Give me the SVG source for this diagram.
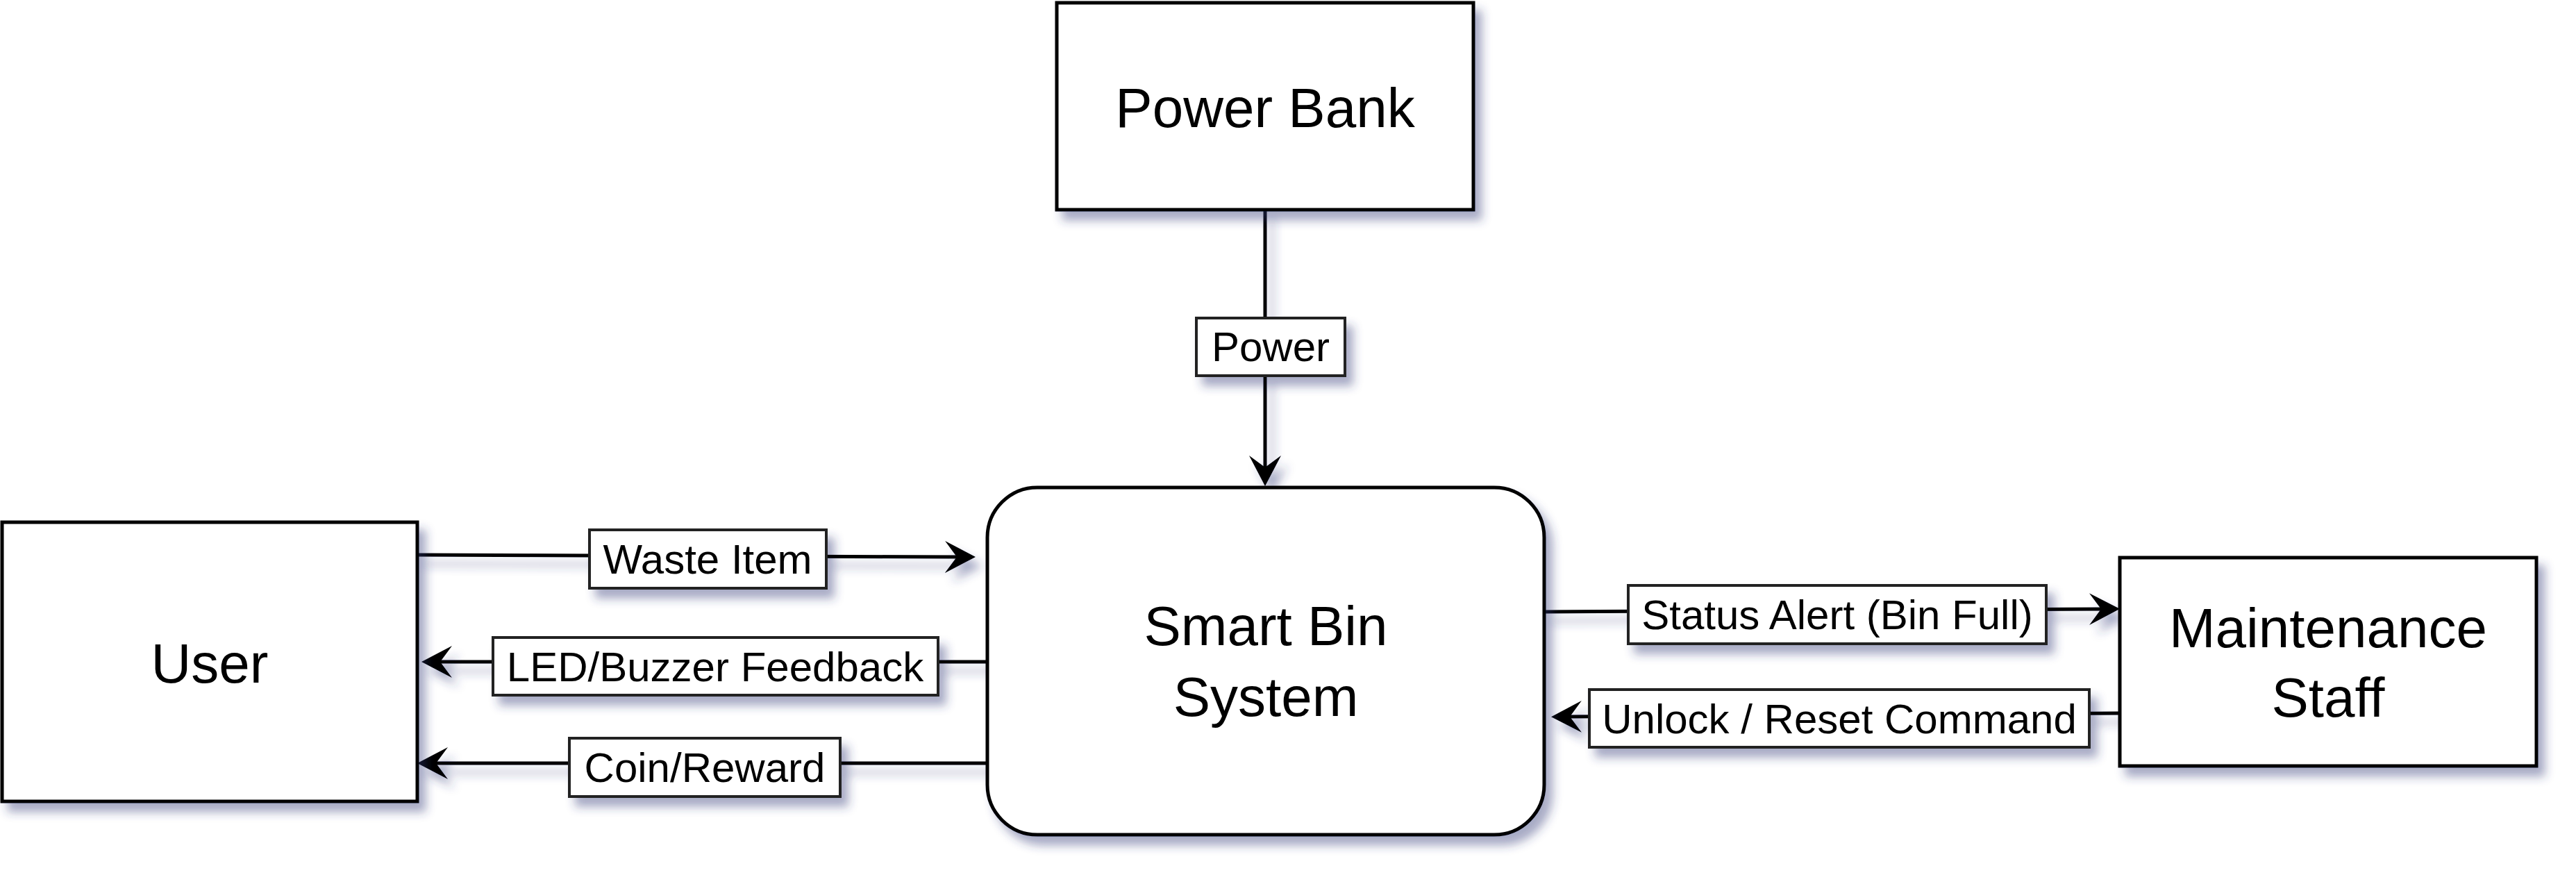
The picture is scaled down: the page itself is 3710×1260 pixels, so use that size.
<svg xmlns="http://www.w3.org/2000/svg" width="3710" height="1260" viewBox="0 0 3710 1260">
<defs>
<filter id="sh" x="-20%" y="-20%" width="150%" height="150%">
<feDropShadow dx="10" dy="13" stdDeviation="7" flood-color="#2e3676" flood-opacity="0.42"/>
</filter>
<marker id="arr" markerUnits="userSpaceOnUse" markerWidth="50" markerHeight="50" viewBox="0 0 50 50" refX="17" refY="23" orient="auto">
<path d="M44,23 L0,0 L17,23 L0,46 Z" fill="#000"/>
</marker>
<style>
.node{fill:#fff;stroke:#000;stroke-width:5}
.nt{font-family:"Liberation Sans",Arial,sans-serif;font-size:80px;fill:#000;text-anchor:middle}
.edge{fill:none;stroke:#000;stroke-width:5}
.lb{fill:#fff;stroke:#222;stroke-width:4}
.lt{font-family:"Liberation Sans",Arial,sans-serif;font-size:60px;fill:#000;text-anchor:middle}
</style>
</defs>
<rect width="3710" height="1260" fill="#fff"/>
<g id="connectors" filter="url(#sh)">
<path class="edge" d="M1822,302 L1822,673" marker-end="url(#arr)"/>
<path class="edge" d="M601,799 L1378,802" marker-end="url(#arr)"/>
<path class="edge" d="M1422,953 L634,953" marker-end="url(#arr)"/>
<path class="edge" d="M1422,1099 L628,1099" marker-end="url(#arr)"/>
<path class="edge" d="M2224,881 L3026,877" marker-end="url(#arr)"/>
<path class="edge" d="M3053,1027 L2261,1032" marker-end="url(#arr)"/>
<g id="label-power"><rect class="lb" x="1723" y="458" width="214" height="83"/><text class="lt" x="1830" y="520">Power</text></g>
<g id="label-waste"><rect class="lb" x="849" y="763" width="341" height="84"/><text class="lt" x="1019" y="826">Waste Item</text></g>
<g id="label-led"><rect class="lb" x="710" y="918" width="641" height="83"/><text class="lt" x="1030" y="981">LED/Buzzer Feedback</text></g>
<g id="label-coin"><rect class="lb" x="820" y="1063" width="390" height="84"/><text class="lt" x="1015" y="1126">Coin/Reward</text></g>
<g id="label-status"><rect class="lb" x="2345" y="843" width="602" height="84"/><text class="lt" x="2646" y="906">Status Alert (Bin Full)</text></g>
<g id="label-unlock"><rect class="lb" x="2289" y="993" width="720" height="83"/><text class="lt" x="2649" y="1056">Unlock / Reset Command</text></g>
</g>
<g id="power-bank" filter="url(#sh)">
<rect class="node" x="1522" y="4" width="600" height="298"/>
<text class="nt" x="1822" y="183">Power Bank</text>
</g>
<g id="user" filter="url(#sh)">
<rect class="node" x="3" y="752" width="598" height="402"/>
<text class="nt" x="302" y="983">User</text>
</g>
<g id="smart-bin" filter="url(#sh)">
<rect class="node" x="1422" y="702" width="802" height="500" rx="72" ry="72"/>
<text class="nt" x="1823" y="929">Smart Bin</text>
<text class="nt" x="1823" y="1031">System</text>
</g>
<g id="maintenance-staff" filter="url(#sh)">
<rect class="node" x="3053" y="803" width="600" height="300"/>
<text class="nt" x="3353" y="932">Maintenance</text>
<text class="nt" x="3353" y="1032">Staff</text>
</g>
</svg>
